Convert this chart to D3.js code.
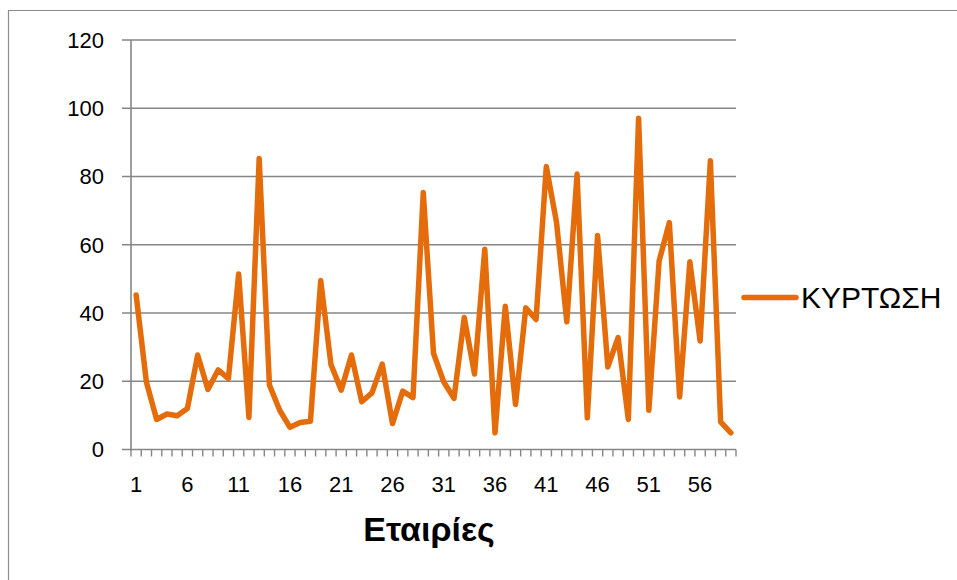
<!DOCTYPE html>
<html>
<head>
<meta charset="utf-8">
<script src="https://cdn.jsdelivr.net/npm/d3@7"></script>
<style>
  html, body { margin: 0; padding: 0; background: #fff; }
  svg { display: block; }
  text { font-family: "Liberation Sans", Arial, sans-serif; fill: #000; }
</style>
</head>
<body>
<svg id="chart" width="957" height="580"></svg>
<script>
// ---- data ----
const categories = d3.range(1, 60); // companies 1..59
const kurtosis = [
  45.3, 19.8, 8.8, 10.4, 9.9, 12.0, 27.7, 17.6, 23.3, 20.8,
  51.4, 9.4, 85.3, 18.9, 11.5, 6.5, 7.9, 8.3, 49.5, 24.9,
  17.4, 27.7, 14.0, 16.6, 25.0, 7.6, 17.1, 15.2, 75.3, 28.2,
  19.8, 15.0, 38.7, 22.1, 58.7, 4.9, 42.0, 13.2, 41.5, 38.1,
  82.9, 66.5, 37.4, 80.7, 9.3, 62.7, 24.2, 32.8, 8.8, 97.1,
  11.5, 55.2, 66.5, 15.4, 55.0, 31.8, 84.6, 8.1, 4.9
];
const yTicks = [0, 20, 40, 60, 80, 100, 120];
const xTickLabels = categories.filter(c => (c - 1) % 5 === 0);
const seriesName = "ΚΥΡΤΩΣΗ";
const xTitle = "Εταιρίες";

// ---- layout ----
const svg = d3.select("#chart");
const plotL = 131, plotR = 736, plotT = 40, plotB = 449.5;
const orange = "#E46C0A";
const grey = "#868686";

// outer chart border (left & top visible)
svg.append("path")
  .attr("d", "M8.5,580 L8.5,10.5 L957,10.5")
  .attr("fill", "none").attr("stroke", "#8c8c8c").attr("stroke-width", 1.2);

const x = d3.scaleBand().domain(categories).range([plotL, plotR]).padding(0);
const y = d3.scaleLinear().domain([0, 120]).range([plotB, plotT]);

// gridlines
svg.append("g").selectAll("line").data(yTicks).join("line")
  .attr("x1", plotL - 9).attr("x2", plotR)
  .attr("y1", d => y(d)).attr("y2", d => y(d))
  .attr("stroke", grey).attr("stroke-width", 1.6);

// y axis line
svg.append("line")
  .attr("x1", plotL).attr("x2", plotL).attr("y1", plotT).attr("y2", plotB + 1)
  .attr("stroke", grey).attr("stroke-width", 1.6);

// y tick labels
svg.append("g").selectAll("text").data(yTicks).join("text")
  .attr("x", plotL - 27).attr("y", d => y(d))
  .attr("dy", "0.36em")
  .attr("text-anchor", "end")
  .style("font-size", "22px")
  .text(d => d);

// x tick marks at band boundaries
const boundaries = categories.map(c => x(c)).concat([x(categories[categories.length - 1]) + x.bandwidth()]);
svg.append("g").selectAll("line").data(boundaries).join("line")
  .attr("x1", d => d).attr("x2", d => d)
  .attr("y1", plotB).attr("y2", plotB + 7)
  .attr("stroke", grey).attr("stroke-width", 1.4);

// x tick labels
svg.append("g").selectAll("text").data(xTickLabels).join("text")
  .attr("x", d => x(d) + x.bandwidth() / 2)
  .attr("y", 492)
  .attr("text-anchor", "middle")
  .style("font-size", "22px")
  .text(d => d);

// x title
svg.append("text")
  .attr("x", 429).attr("y", 541)
  .attr("text-anchor", "middle")
  .style("font-size", "34px").style("font-weight", "bold")
  .text(xTitle);

// line
const line = d3.line()
  .x((d, i) => x(categories[i]) + x.bandwidth() / 2)
  .y(d => y(d));
svg.append("path")
  .datum(kurtosis)
  .attr("d", line)
  .attr("fill", "none")
  .attr("stroke", orange)
  .attr("stroke-width", 5.5)
  .attr("stroke-linejoin", "round")
  .attr("stroke-linecap", "round");

// legend
svg.append("line")
  .attr("x1", 744).attr("x2", 796).attr("y1", 297.5).attr("y2", 297.5)
  .attr("stroke", orange).attr("stroke-width", 5.5).attr("stroke-linecap", "round");
svg.append("text")
  .attr("x", 801).attr("y", 307.5)
  .style("font-size", "30px")
  .text(seriesName);
</script>
</body>
</html>
